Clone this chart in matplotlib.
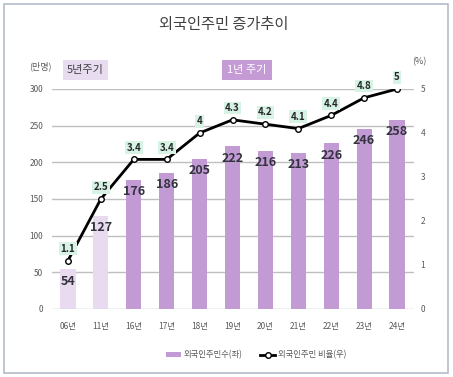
import matplotlib
matplotlib.use("Agg")
import matplotlib.pyplot as plt
from matplotlib.patches import Rectangle, Patch
from matplotlib.lines import Line2D

plt.rcParams['font.family'] = ['Noto Sans CJK KR', 'DejaVu Sans']

categories = ["06년", "11년", "16년", "17년", "18년", "19년", "20년", "21년", "22년", "23년", "24년"]
residents = [54, 127, 176, 186, 205, 222, 216, 213, 226, 246, 258]
ratio = [1.1, 2.5, 3.4, 3.4, 4, 4.3, 4.2, 4.1, 4.4, 4.8, 5]
ratio_labels = ["1.1", "2.5", "3.4", "3.4", "4", "4.3", "4.2", "4.1", "4.4", "4.8", "5"]
left_ticks = [0, 50, 100, 150, 200, 250, 300]
right_ticks = [0, 1, 2, 3, 4, 5]

light = "#e8dbef"
purple = "#c39bd4"
colors = [light, light] + [purple] * (len(categories) - 2)

W, H = 453, 377
fig = plt.figure(figsize=(W / 100, H / 100), dpi=100)
fig.patch.set_facecolor("white")

def fx(px):
    return px / W

def fy(py):
    return 1 - py / H

# outer frame
fig.add_artist(Rectangle((fx(4), fy(373)), fx(444), 369 / H, transform=fig.transFigure,
                         fill=False, edgecolor="#b4bccb", lw=1.2))

ax = fig.add_axes([fx(51.5), fy(309), fx(362), 220 / H])
x = list(range(len(categories)))
ax.bar(x, residents, width=0.46, color=colors, zorder=2)
ax.set_xlim(-0.5, len(categories) - 0.5)
ax.set_ylim(0, 300)
ax.set_yticks(left_ticks)
ax.set_yticklabels([str(t) for t in left_ticks])
ax.set_xticks(x)
ax.set_xticklabels(categories)
ax.tick_params(axis='both', length=0, labelsize=6, colors="#595959")
ax.tick_params(axis='y', pad=6)
ax.tick_params(axis='x', pad=9)
for s in ax.spines.values():
    s.set_visible(False)
ax.yaxis.grid(True, color="#bfbfbf", lw=1)
ax.set_axisbelow(True)

for xi, v in zip(x, residents):
    ax.annotate(str(v), (xi, v), xytext=(0, -4), textcoords="offset points",
                ha="center", va="top", fontsize=9, fontweight="bold", color="#33333f",
                zorder=5)

ax2 = ax.twinx()
ax2.set_ylim(0, 5)
ax2.set_yticks(right_ticks)
ax2.set_yticklabels([str(t) for t in right_ticks])
ax2.tick_params(axis='y', length=0, labelsize=6, colors="#595959", pad=5)
for s in ax2.spines.values():
    s.set_visible(False)
ax2.plot(x, ratio, color="black", lw=2, marker="o", markersize=4,
         markerfacecolor="white", markeredgecolor="black", markeredgewidth=1, zorder=4)
for xi, v, lab in zip(x, ratio, ratio_labels):
    ax2.annotate(lab, (xi, v), xytext=(0, 8.5), textcoords="offset points",
                 ha="center", va="center", fontsize=7, fontweight="bold", color="#262626",
                 bbox=dict(boxstyle="square,pad=0.15", fc="#d6f3e5", ec="none"), zorder=6)

# title
fig.text(fx(224), fy(24), "외국인주민 증가추이", ha="center", va="center",
         fontsize=11, color="#404040")
# axis unit labels
fig.text(fx(40), fy(66), "(만명)", ha="center", va="center", fontsize=6.5, color="#595959")
fig.text(fx(419), fy(62), "(%)", ha="center", va="center", fontsize=6.5, color="#595959")

# period boxes
fig.add_artist(Rectangle((fx(63), fy(80)), fx(45), 20 / H, transform=fig.transFigure,
                         facecolor="#e8dcf0", edgecolor="none"))
fig.text(fx(85.5), fy(70), "5년주기", ha="center", va="center", fontsize=8, color="#404040")
fig.add_artist(Rectangle((fx(222), fy(80)), fx(50), 20 / H, transform=fig.transFigure,
                         facecolor="#c59bd6", edgecolor="none"))
fig.text(fx(247), fy(70), "1년 주기", ha="center", va="center", fontsize=8, color="white")

handles = [Patch(facecolor=purple, edgecolor="none"),
           Line2D([0], [0], color="black", lw=2, marker="o", markersize=4,
                  markerfacecolor="white", markeredgecolor="black")]
fig.legend(handles, ["외국인주민수(좌)", "외국인주민 비율(우)"], loc="center",
           bbox_to_anchor=(fx(256), fy(355)), ncol=2, frameon=False, fontsize=6,
           labelcolor="#595959", handlelength=1.8, handleheight=0.6, columnspacing=2.2,
           handletextpad=0.3)

fig.savefig("out.png", dpi=100, facecolor="white")
